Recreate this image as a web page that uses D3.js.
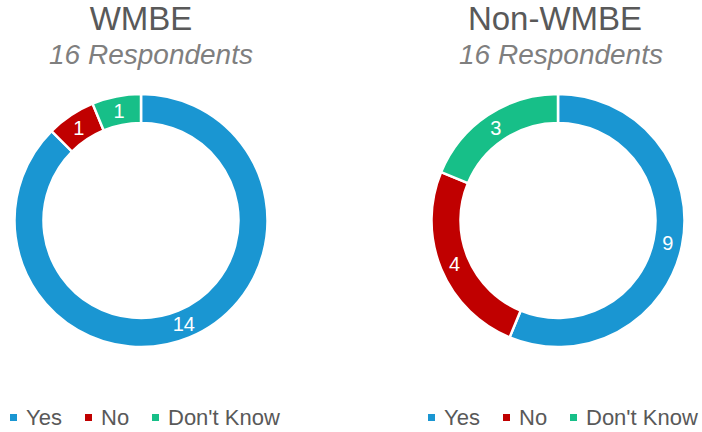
<!DOCTYPE html>
<html>
<head>
<meta charset="utf-8">
<script src="https://cdn.jsdelivr.net/npm/d3@7"></script>
<style>
  body { margin: 0; background: #fff; }
  text { font-family: "Liberation Sans", Arial, sans-serif; }
</style>
</head>
<body>
<svg id="chart" width="702" height="432"></svg>
<script>
const categories = ['Yes', 'No', "Don't Know"];
const colorScheme = ['#1a96d2', '#c00000', '#17bf88'];

const wmbeValues = [14, 1, 1];
const nonWmbeValues = [9, 4, 3];

const titles = ['WMBE', 'Non-WMBE'];
const subtitles = ['16 Respondents', '16 Respondents'];

const donutConfigs = [
  {cx: 141, cy: 220.5, titleX: 141, subX: 151, legendX: 10, values: wmbeValues},
  {cx: 558, cy: 220.5, titleX: 555, subX: 561, legendX: 428, values: nonWmbeValues}
];

const svg = d3.select('#chart');

const colors = d3.scaleOrdinal()
  .domain(categories)
  .range(colorScheme);

const pie = d3.pie()
  .sort(null)
  .value(d => d.value);

const outerR = 126.5;
const innerR = 97.5;

const arc = d3.arc()
  .innerRadius(innerR)
  .outerRadius(outerR);

const labelArc = d3.arc()
  .innerRadius((innerR + outerR) / 2)
  .outerRadius((innerR + outerR) / 2);

donutConfigs.forEach((conf, idx) => {
  const data = categories.map((c, i) => ({name: c, value: conf.values[i]}));

  svg.append('text')
    .attr('x', conf.titleX)
    .attr('y', 30)
    .attr('text-anchor', 'middle')
    .attr('fill', '#595959')
    .style('font-size', '33px')
    .text(titles[idx]);

  svg.append('text')
    .attr('x', conf.subX)
    .attr('y', 64)
    .attr('text-anchor', 'middle')
    .attr('fill', '#7f7f7f')
    .style('font-size', '28px')
    .style('font-style', 'italic')
    .text(subtitles[idx]);

  const g = svg.append('g')
    .attr('transform', `translate(${conf.cx}, ${conf.cy})`);

  const slices = pie(data);

  g.selectAll('path')
    .data(slices)
    .enter()
    .append('path')
      .attr('d', arc)
      .attr('fill', d => colors(d.data.name))
      .attr('stroke', '#fff')
      .attr('stroke-width', 2.5);

  g.selectAll('text.val')
    .data(slices)
    .enter()
    .append('text')
      .attr('class', 'val')
      .attr('transform', d => `translate(${labelArc.centroid(d)})`)
      .attr('text-anchor', 'middle')
      .attr('dy', '0.36em')
      .attr('fill', '#fff')
      .style('font-size', '20px')
      .text(d => d.data.value);

  // legend
  const legendOffsets = [0, 75, 142];
  const lg = svg.append('g')
    .attr('transform', `translate(${conf.legendX}, 0)`);

  const item = lg.selectAll('g')
    .data(categories)
    .enter()
    .append('g')
      .attr('transform', (d, i) => `translate(${legendOffsets[i]}, 0)`);

  item.append('rect')
    .attr('x', 0)
    .attr('y', 414)
    .attr('width', 7)
    .attr('height', 7)
    .attr('fill', d => colors(d));

  item.append('text')
    .attr('x', 16)
    .attr('y', 425)
    .attr('fill', '#595959')
    .style('font-size', '22px')
    .text(d => d);
});
</script>
</body>
</html>
